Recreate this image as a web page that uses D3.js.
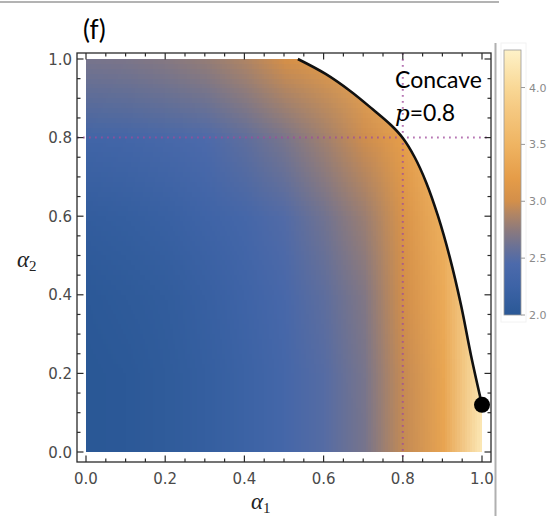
<!DOCTYPE html>
<html lang="en">
<head>
<meta charset="UTF-8">
<title>Concave p=0.8</title>
<style>
    body { margin: 0; background: #fff; }
    svg { display: block; }
    .tick-label { font-family: "DejaVu Sans", sans-serif; font-size: 15px; fill: #4a4a4a; }
    .cb-label { font-family: "DejaVu Sans", sans-serif; font-size: 11px; fill: #8a8a8a; }
    .note { font-family: Lato, "Open Sans", sans-serif; fill: #000; }
    .axis-title { font-family: "Liberation Serif", serif; fill: #222; }
</style>
</head>
<body>
<svg id="chart" width="548" height="516"></svg>
<script src="https://d3js.org/d3.v7.min.js"></script>
<script>
    // grid of values (rows = alpha2, columns = alpha1)
    const alpha1Grid = [0, 0.1, 0.2, 0.3, 0.4, 0.5, 0.6, 0.7, 0.8, 0.9, 1.0];
    const alpha2Grid = [0, 0.2, 0.4, 0.6, 0.8, 1.0];
    const valueGrid = [
        [2.00, 2.03, 2.08, 2.15, 2.24, 2.36, 2.50, 2.65, 2.95, 3.30, 4.25],
        [2.00, 2.03, 2.08, 2.15, 2.24, 2.36, 2.50, 2.66, 2.96, 3.32, 4.20],
        [2.03, 2.06, 2.11, 2.18, 2.27, 2.39, 2.54, 2.70, 3.00, 3.38, 4.15],
        [2.12, 2.15, 2.20, 2.27, 2.36, 2.48, 2.63, 2.80, 3.08, 3.45, 4.10],
        [2.30, 2.33, 2.38, 2.45, 2.54, 2.66, 2.82, 2.98, 3.22, 3.60, 4.10],
        [2.65, 2.67, 2.71, 2.77, 2.87, 3.00, 3.15, 3.35, 3.60, 3.90, 4.20]
    ];

    // boundary curve
    const curveA1 = [0.535, 0.605, 0.668, 0.724, 0.770, 0.800, 0.830, 0.859, 0.889, 0.919, 0.947, 0.972, 1.0];
    const curveA2 = [1.000, 0.962, 0.918, 0.872, 0.832, 0.799, 0.750, 0.686, 0.600, 0.494, 0.374, 0.247, 0.12];
    const endPoint = [1.0, 0.12];
    const refValue = 0.8;

    const axisTicks = [0, 0.2, 0.4, 0.6, 0.8, 1.0];
    const axisTickLabels = ["0.0", "0.2", "0.4", "0.6", "0.8", "1.0"];
    const colorbarTicks = [2.0, 2.5, 3.0, 3.5, 4.0];
    const colorbarRange = [2.0, 4.33];

    const colorStops = [2.0, 2.25, 2.45, 2.6, 2.75, 2.9, 3.0, 3.2, 3.5, 3.8, 4.0, 4.33];
    const colorRange = ["#2a5896", "#3d63a6", "#4c6aab", "#6a7196", "#8d7a7c", "#b58661",
                        "#d38f4a", "#e59c48", "#efb462", "#f5c880", "#f9d896", "#fef2c8"];

    const color = d3.scaleLinear().domain(colorStops).range(colorRange).clamp(true);

    const svg = d3.select("#chart");
    const x = d3.scaleLinear().domain([0, 1]).range([86, 482]);
    const y = d3.scaleLinear().domain([0, 1]).range([452, 59]);
    const frame = { left: 77, right: 491, top: 53, bottom: 462 };

    // outer border lines of the figure
    svg.append("line").attr("x1", 0).attr("x2", 499).attr("y1", 2).attr("y2", 2)
        .attr("stroke", "#9a9a9a").attr("stroke-width", 1.5);
    svg.append("line").attr("x1", 495.5).attr("x2", 495.5).attr("y1", 43).attr("y2", 516)
        .attr("stroke", "#b0b0b0").attr("stroke-width", 2);

    // density image: one pixel per grid value, scaled up smoothly
    const cv = document.createElement("canvas");
    cv.width = alpha1Grid.length;
    cv.height = alpha2Grid.length;
    const ctx = cv.getContext("2d");
    const img = ctx.createImageData(cv.width, cv.height);
    valueGrid.forEach((row, j) => {
        const py = cv.height - 1 - j;
        row.forEach((v, i) => {
            const c = d3.rgb(color(v));
            const k = (py * cv.width + i) * 4;
            img.data[k] = c.r; img.data[k + 1] = c.g; img.data[k + 2] = c.b; img.data[k + 3] = 255;
        });
    });
    ctx.putImageData(img, 0, 0);

    const dx = alpha1Grid[1] - alpha1Grid[0];
    const dy = alpha2Grid[1] - alpha2Grid[0];

    const curvePts = curveA1.map((a, i) => [x(a), y(curveA2[i])]);
    const curveLine = d3.line().curve(d3.curveCatmullRom);
    const curveD = curveLine(curvePts);
    const regionD = `M${x(0)},${y(0)}L${x(0)},${y(1)}L` + curveD.slice(1) + `L${x(1)},${y(0)}Z`;

    const defs = svg.append("defs");
    defs.append("clipPath").attr("id", "region").append("path").attr("d", regionD);

    svg.append("image")
        .attr("href", cv.toDataURL())
        .attr("x", x(alpha1Grid[0] - dx / 2))
        .attr("y", y(alpha2Grid[alpha2Grid.length - 1] + dy / 2))
        .attr("width", x(1 + dx / 2) - x(-dx / 2))
        .attr("height", y(-dy / 2) - y(1 + dy / 2))
        .attr("preserveAspectRatio", "none")
        .attr("clip-path", "url(#region)");

    // dotted reference lines
    const dotted = svg.append("g").attr("stroke", "#a04a9c").attr("stroke-width", 2)
        .attr("stroke-dasharray", "1.8,4.2").attr("opacity", 0.75);
    dotted.append("line").attr("x1", x(refValue)).attr("x2", x(refValue))
        .attr("y1", frame.top).attr("y2", frame.bottom);
    dotted.append("line").attr("x1", frame.left).attr("x2", frame.right)
        .attr("y1", y(refValue)).attr("y2", y(refValue));

    // boundary curve and end point
    svg.append("path").attr("d", curveD).attr("fill", "none")
        .attr("stroke", "#111").attr("stroke-width", 2.6);
    svg.append("circle").attr("cx", x(endPoint[0])).attr("cy", y(endPoint[1]))
        .attr("r", 8).attr("fill", "#000");

    // frame with inward ticks
    svg.append("rect").attr("x", frame.left).attr("y", frame.top)
        .attr("width", frame.right - frame.left).attr("height", frame.bottom - frame.top)
        .attr("fill", "none").attr("stroke", "#2a2a2a").attr("stroke-width", 1.3);

    const minor = d3.range(0, 1.0001, 0.05);
    const tg = svg.append("g").attr("stroke", "#2a2a2a").attr("stroke-width", 1.2);
    minor.forEach((t, i) => {
        const len = i % 4 === 0 ? 6.5 : 3.5;
        tg.append("line").attr("x1", x(t)).attr("x2", x(t)).attr("y1", frame.bottom).attr("y2", frame.bottom - len);
        tg.append("line").attr("x1", x(t)).attr("x2", x(t)).attr("y1", frame.top).attr("y2", frame.top + len);
        tg.append("line").attr("y1", y(t)).attr("y2", y(t)).attr("x1", frame.left).attr("x2", frame.left + len);
        tg.append("line").attr("y1", y(t)).attr("y2", y(t)).attr("x1", frame.right).attr("x2", frame.right - len);
    });

    axisTicks.forEach((t, i) => {
        svg.append("text").attr("class", "tick-label").attr("x", x(t)).attr("y", 484)
            .attr("text-anchor", "middle").text(axisTickLabels[i]);
        svg.append("text").attr("class", "tick-label").attr("x", 72).attr("y", y(t) + 5.5)
            .attr("text-anchor", "end").text(axisTickLabels[i]);
    });

    // axis titles
    const t1 = svg.append("text").attr("class", "axis-title").attr("x", 251).attr("y", 509);
    t1.append("tspan").attr("font-style", "italic").attr("font-size", 23).text("α");
    t1.append("tspan").attr("font-size", 15).attr("dy", 4).text("1");
    const t2 = svg.append("text").attr("class", "axis-title").attr("x", 17).attr("y", 267);
    t2.append("tspan").attr("font-style", "italic").attr("font-size", 23).text("α");
    t2.append("tspan").attr("font-size", 15).attr("dy", 4).text("2");

    // annotations
    svg.append("text").attr("class", "note").attr("x", 83).attr("y", 39)
        .attr("font-size", 26).text("(f)");
    svg.append("text").attr("class", "note").attr("x", 395).attr("y", 88)
        .attr("font-size", 23).text("Concave");
    const pt = svg.append("text").attr("class", "note").attr("x", 395).attr("y", 121).attr("font-size", 23);
    pt.append("tspan").attr("font-style", "italic").attr("font-family", "'DejaVu Serif', serif").text("p");
    pt.append("tspan").text("=0.8");

    // colorbar
    const cb = d3.scaleLinear().domain(colorbarRange).range([315, 50]);
    const grad = defs.append("linearGradient").attr("id", "cbgrad")
        .attr("x1", 0).attr("y1", 1).attr("x2", 0).attr("y2", 0);
    colorStops.forEach((v, i) => {
        grad.append("stop")
            .attr("offset", (v - colorbarRange[0]) / (colorbarRange[1] - colorbarRange[0]))
            .attr("stop-color", colorRange[i]);
    });
    svg.append("rect").attr("x", 501).attr("y", 43).attr("width", 25).attr("height", 279)
        .attr("fill", "none").attr("stroke", "#f2f2f2").attr("stroke-width", 1);
    svg.append("rect").attr("x", 504).attr("y", cb(colorbarRange[1]))
        .attr("width", 17).attr("height", cb(colorbarRange[0]) - cb(colorbarRange[1]))
        .attr("fill", "url(#cbgrad)").attr("stroke", "#9a9a9a").attr("stroke-width", 0.8);
    colorbarTicks.forEach(t => {
        svg.append("line").attr("x1", 521).attr("x2", 525).attr("y1", cb(t)).attr("y2", cb(t))
            .attr("stroke", "#999").attr("stroke-width", 1);
        svg.append("text").attr("class", "cb-label").attr("x", 529).attr("y", cb(t) + 4)
            .text(t.toFixed(1));
    });
</script>
</body>
</html>
